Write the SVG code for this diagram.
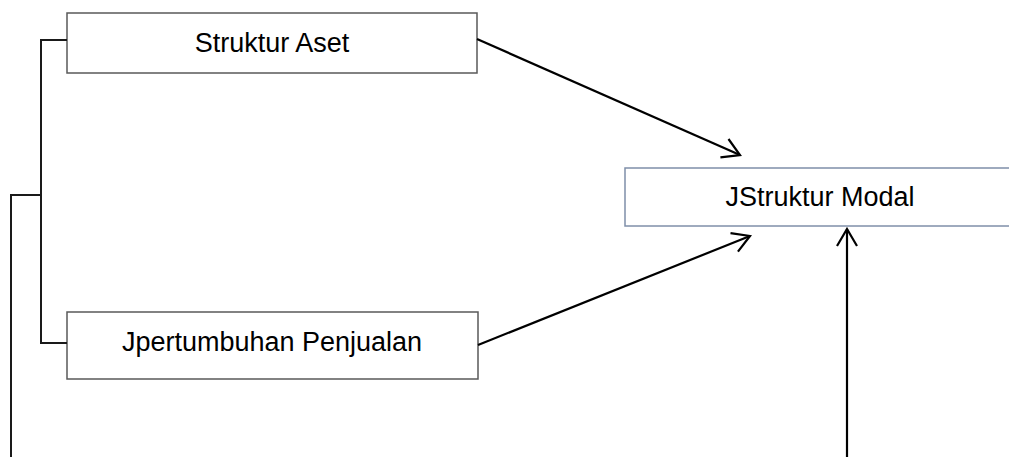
<svg xmlns="http://www.w3.org/2000/svg" width="1009" height="457" viewBox="0 0 1009 457">
<style>
.box{fill:#ffffff;stroke:#595959;stroke-width:1.5}
.box3{fill:#ffffff;stroke:#7f8fa9;stroke-width:1.5}
.lbl{font-family:"Liberation Sans",Arial,sans-serif;font-size:27px;fill:#000000;text-anchor:middle}
.conn{fill:none;stroke:#000000;stroke-width:2.2}
.brk{fill:none;stroke:#1a1a1a;stroke-width:2}
</style>
<defs>
<marker id="arr" viewBox="-22 -12 24 24" refX="0" refY="0" markerWidth="24" markerHeight="24" markerUnits="userSpaceOnUse" orient="auto">
<path d="M-17,-10 L0,0 L-17,10" fill="none" stroke="#000000" stroke-width="2.2"/>
</marker>
</defs>
<g id="node-struktur-aset">
<rect class="box" x="67" y="13" width="410" height="60"/>
<text class="lbl" x="272" y="52">Struktur Aset</text>
</g>
<g id="node-pertumbuhan-penjualan">
<rect class="box" x="67" y="312" width="411" height="67"/>
<text class="lbl" x="272" y="351">Jpertumbuhan Penjualan</text>
</g>
<g id="node-struktur-modal">
<rect class="box3" x="625" y="168" width="392" height="58"/>
<text class="lbl" x="820" y="206">JStruktur Modal</text>
</g>
<g id="connectors">
<path class="brk" d="M67,40 H41 V343 H67"/>
<path class="brk" d="M41,195 H11 V457"/>
<path class="conn" d="M477,39 L740,155" marker-end="url(#arr)"/>
<path class="conn" d="M478,345 L750,236" marker-end="url(#arr)"/>
<path class="conn" d="M847,457 L847,229" marker-end="url(#arr)"/>
</g>
</svg>
